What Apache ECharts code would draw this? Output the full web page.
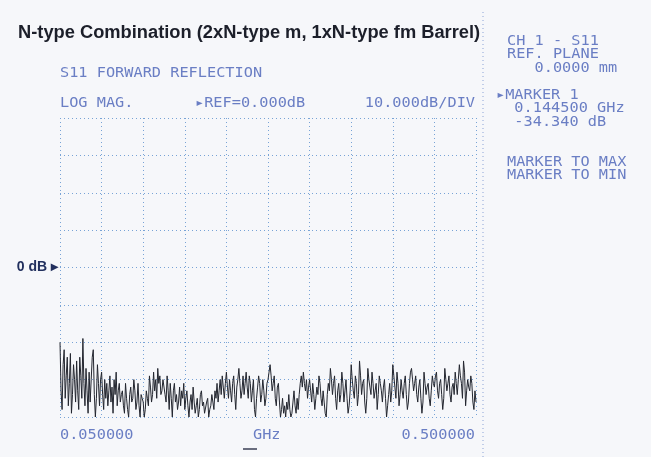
<!DOCTYPE html>
<html><head><meta charset="utf-8">
<script src="https://cdn.jsdelivr.net/npm/echarts@6/dist/echarts.min.js"></script>
<style>html,body{margin:0;padding:0;background:#f6f7fa;}#c{width:651px;height:457px;}</style>
</head><body><div id="c"></div>
<script>
// Sweep settings
const startGHz = 0.05;
const stopGHz = 0.5;
const nPoints = 401;
// Y axis (dB): reference 0 dB, 10 dB/div
const yMin = -40, yMax = 40, yStep = 10;
// S11 magnitude, dB
const s11dB = [
 -20,-33,-38,-26,-22,-35,-29,-24,-37,-31,-23,-39,-34,-26,-30,-36,-25,-33,-38,-24,
 -29,-35,-19,-31,-37,-27,-33,-39,-28,-36,-30,-24,-22,-34,-40,-35,-26,-31,-37,-30,
 -28,-34,-38,-30,-35,-31,-37,-33,-29,-36,-32,-39,-30,-34,-28,-37,-33,-31,-36,-34,
 -33,-37,-39,-31,-35,-38,-40,-34,-32,-36,-35,-30,-33,-38,-36,-31,-37,-40,-34,-35,
 -36,-40,-38,-33,-35,-37,-29,-32,-36,-34,-28,-33,-30,-35,-27,-31,-29,-34,-33,-30,
 -30,-34,-36,-29,-33,-38,-31,-35,-40,-33,-31,-36,-34,-38,-36,-32,-37,-33,-35,-31,
 -38,-35,-33,-37,-40,-36,-34,-38,-32,-36,-39,-37,-35,-40,-38,-34,-33,-37,-36,-39,
 -39,-36,-35,-40,-38,-37,-34,-36,-38,-33,-35,-31,-36,-33,-30,-34,-29,-32,-35,-31,
 -28,-32,-35,-30,-33,-36,-31,-29,-34,-38,-32,-30,-27,-31,-35,-33,-29,-34,-31,-28,
 -32,-35,-29,-31,-36,-33,-30,-38,-40,-35,-32,-29,-31,-36,-34,-30,-33,-37,-35,-31,
 -30,-28,-26,-29,-33,-31,-29,-35,-37,-32,-31,-36,-40,-38,-35,-39,-37,-40,-36,-38,
 -34,-38,-40,-39,-36,-33,-37,-39,-35,-38,-34,-31,-29,-32,-28,-31,-33,-30,-35,-32,
 -30,-33,-36,-31,-34,-38,-35,-32,-34,-29,-31,-35,-37,-33,-36,-39,-40,-34,-31,-33,
 -27,-30,-34,-31,-29,-35,-38,-33,-31,-36,-34,-28,-31,-36,-33,-30,-35,-39,-37,-33,
 -26,-30,-33,-35,-29,-31,-37,-34,-25,-29,-34,-31,-30,-36,-39,-35,-27,-30,-32,-34,
 -28,-31,-35,-33,-31,-38,-34,-29,-31,-33,-36,-32,-30,-35,-40,-37,-34,-31,-36,-33,
 -26,-29,-32,-35,-28,-31,-37,-34,-30,-33,-35,-31,-29,-34,-38,-36,-31,-28,-27,-30,
 -33,-31,-29,-34,-36,-32,-30,-35,-39,-36,-28,-31,-34,-32,-31,-35,-37,-33,-29,-31,
 -32,-29,-28,-33,-35,-31,-30,-34,-38,-35,-27,-30,-33,-31,-29,-34,-36,-32,-31,-34,
 -28,-31,-34,-30,-26,-29,-31,-35,-25,-28,-37,-33,-30,-32,-33,-29,-31,-36,-38,-33,
 -36
];
// Texts
const titleText = 'N-type Combination (2xN-type m, 1xN-type fm Barrel)';
const measText = 'S11 FORWARD REFLECTION';
const formatText = 'LOG MAG.';
const refText = '\u25B8REF=0.000dB';
const scaleText = '10.000dB/DIV';
const startLabel = '0.050000';
const stopLabel = '0.500000';
const unitLabel = 'GHz';
const panelA = ['CH 1 - S11', 'REF. PLANE', '   0.0000 mm'];
const panelB = ['\u25B8MARKER 1', '  0.144500 GHz', '  -34.340 dB'];
const panelC = ['MARKER TO MAX', 'MARKER TO MIN'];

const step = (stopGHz - startGHz) / (nPoints - 1);
const seriesData = s11dB.map((v, i) => [startGHz + i * step, v]);

const instColor = '#6a7ec4';
const mono = '"DejaVu Sans Mono", monospace';
function monoText(txt, x, y, align) {
  return { type: 'text', x: x, y: y, scaleX: 1.09, originX: 0, originY: 0, style: {
    text: txt, font: '14px ' + mono, fill: instColor,
    textAlign: align || 'left', textVerticalAlign: 'middle' } };
}
function panel(lines, x, y0, lh) {
  return lines.map((t, i) => monoText(t, x, y0 + i * lh));
}

const chart = echarts.init(document.getElementById('c'));
chart.setOption({
  backgroundColor: '#f6f7fa',
  animation: false,
  grid: { left: 60, top: 118, width: 416, height: 299, show: false },
  xAxis: {
    type: 'value', min: startGHz, max: stopGHz, interval: (stopGHz - startGHz) / 10,
    axisLine: { show: false }, axisTick: { show: false }, axisLabel: { show: false },
    splitLine: { show: true, lineStyle: { color: '#78a3d6', type: [1, 3], width: 1 } }
  },
  yAxis: {
    type: 'value', min: yMin, max: yMax, interval: yStep,
    axisLine: { show: false }, axisTick: { show: false },
    axisLabel: { show: true, margin: 2, formatter: v => v === 0 ? '0 dB \u25B8' : '',
      color: '#22305e', fontWeight: 'bold', fontSize: 14, fontFamily: 'Liberation Sans, Arial' },
    splitLine: { show: true, lineStyle: { color: '#78a3d6', type: [1, 3], width: 1 } }
  },
  series: [{
    type: 'line', data: seriesData, showSymbol: false,
    lineStyle: { color: '#23262f', width: 1 }
  }],
  graphic: [
    { type: 'text', x: 18, y: 33, style: { text: titleText, font: 'bold 18.3px "Liberation Sans", Arial',
      fill: '#1c1f2a', textVerticalAlign: 'middle' } },
    monoText(measText, 60, 73),
    monoText(formatText, 60, 103),
    monoText(refText, 195, 103),
    monoText(scaleText, 475, 103, 'right'),
    monoText(startLabel, 60, 435),
    monoText(unitLabel, 253, 435),
    monoText(stopLabel, 475, 435, 'right'),
    { type: 'line', shape: { x1: 243, y1: 449, x2: 257, y2: 449 }, style: { stroke: '#3a3f55', lineWidth: 1.5 } },
    { type: 'line', shape: { x1: 483, y1: 12, x2: 483, y2: 457 }, style: { stroke: '#8ba3d6', lineWidth: 1, lineDash: [1, 3] } },
    ...panel(panelA, 507, 41, 13.5),
    ...panel(panelB, 496, 95, 13.5),
    ...panel(panelC, 507, 162, 13)
  ]
});
</script></body></html>
